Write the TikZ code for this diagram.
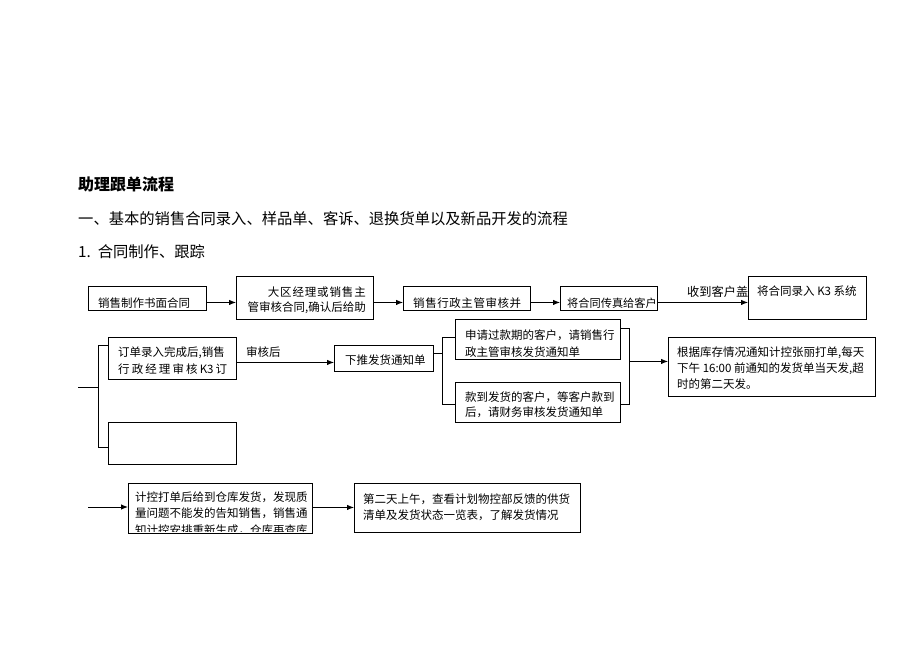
\documentclass[tikz,border=0pt]{standalone}
\usepackage{fontspec}
\setmainfont{Noto Sans CJK SC}
\usetikzlibrary{arrows.meta}
\tikzset{
  box/.style={draw, line width=0.9pt, fill=white, anchor=north west, inner sep=0pt},
  txt/.style={font=\fontsize{11.5}{17}\selectfont, inner sep=0pt, align=left, anchor=north west},
  head/.style={font=\fontsize{15.3}{18}\selectfont, inner sep=0pt, anchor=west},
  ln/.style={line width=0.9pt},
  arr/.style={line width=0.9pt, -{Latex[length=7pt,width=5.5pt]}}
}
\begin{document}
\begin{tikzpicture}[x=1pt,y=-1pt]
\useasboundingbox (0,0) rectangle (920,651);
% headings
\node[head, font=\fontsize{16}{18}\selectfont\bfseries] (t1) at (78,184) {助理跟单流程};
\node[head] (t2) at (78,219) {一、基本的销售合同录入、样品单、客诉、退换货单以及新品开发的流程};
\node[head] (t3) at (78,252) {1.\ \ 合同制作、跟踪};
% row 1
\node[box, minimum width=118pt, minimum height=24pt] (A) at (88,286) {};
\node[txt] (At) at (98,297.5) {销售制作书面合同};
\node[box, minimum width=137pt, minimum height=43pt] (B) at (236,276) {};
\node[txt, align=right, anchor=north east, font=\fontsize{11.5}{15}\selectfont] (Bt) at (366,287) {\makebox[98pt][s]{大\hfill 区\hfill 经\hfill 理\hfill 或\hfill 销\hfill 售\hfill 主}\\管审核合同,确认后给助};
\node[box, minimum width=127pt, minimum height=24pt] (C) at (403,286) {};
\node[txt] (Ct) at (413,297.5) {\makebox[108pt][s]{销\hfill 售\hfill 行\hfill 政\hfill 主\hfill 管\hfill 审\hfill 核\hfill 并}};
\node[box, minimum width=97pt, minimum height=24pt] (D) at (560,286) {};
\node[txt, font=\fontsize{11.2}{17}\selectfont] (Dt) at (567,297.7) {将合同传真给客户};
\begin{scope}
  \clip (680,270) rectangle (748,300);
  \node[txt, font=\fontsize{12.2}{17}\selectfont] (lab1) at (687,286) {收到客户盖};
\end{scope}
\node[box, minimum width=118pt, minimum height=43pt] (E) at (748,276) {};
\node[txt] (Et) at (757,285.5) {将合同录入 K3 系统};
\draw[arr] ([yshift=-4pt]A.east) -- ([yshift=-4pt]A.east -| B.west);
\draw[arr] ([yshift=-4pt]C.west -| B.east) -- ([yshift=-4pt]C.west);
\draw[arr] ([yshift=-4pt]C.east) -- ([yshift=-4pt]C.east -| D.west);
\draw[arr] ([yshift=-4pt]D.east) -- ([yshift=-4pt]D.east -| E.west);
% row 2
\node[box, minimum width=128pt, minimum height=42pt] (F) at (108,337) {};
\node[txt] (Ft) at (118,346.5) {订单录入完成后,销售\\\makebox[109pt][s]{行\hfill 政\hfill 经\hfill 理\hfill 审\hfill 核\hfill K3\hfill 订}};
\node[box, minimum width=128pt, minimum height=42pt] (G) at (108,422) {};
\coordinate (s1) at (78,387);
\draw[ln] ([yshift=-8pt]F.north west) -- ++(-10,0) |- ([yshift=-25pt]G.north west);
\draw[ln] (s1) -- ++(20,0);
\node[box, minimum width=99pt, minimum height=26pt] (H) at (334,345) {};
\node[txt] (Ht) at (345,355) {下推发货通知单};
\draw[arr] ([yshift=-4pt]F.east) -- ([yshift=-4pt]F.east -| H.west);
\node[txt] (lab2) at (246,346.5) {审核后};
\node[box, minimum width=165pt, minimum height=40pt] (I) at (455,319) {};
\node[txt] (It) at (465,329.5) {申请过款期的客户，请销售行\\政主管审核发货通知单};
\node[box, minimum width=165pt, minimum height=40pt] (J) at (455,382) {};
\node[txt, font=\fontsize{11.5}{15.5}\selectfont] (Jt) at (465,391.5) {款到发货的客户，等客户款到\\后，请财务审核发货通知单};
\draw[ln] ([yshift=5pt]H.east) -- ++(9,0);
\draw[ln] ([yshift=-18pt]I.north west) -- ++(-13,0) |- ([yshift=-22pt]J.north west);
\draw[ln] ([yshift=-9pt]I.north east) -- ++(9,0) coordinate (rb) |- ([yshift=-22pt]J.north east);
\node[box, minimum width=207pt, minimum height=59pt] (K) at (668,337) {};
\node[txt, font=\fontsize{11.5}{16}\selectfont] (Kt) at (677,346.5) {根据库存情况通知计控张丽打单,每天\\下午 16:00 前通知的发货单当天发,超\\时的第二天发。};
\path ([yshift=5.5pt]K.west) coordinate (k1);
\draw[arr] (k1 -| rb) -- (k1);
% row 3
\node[box, minimum width=184pt, minimum height=50pt] (L) at (128,483) {};
\begin{scope}
  \clip (L.north west) rectangle ([yshift=2.5pt]L.south east);
  \node[txt, font=\fontsize{11.5}{16.5}\selectfont] (Lt) at (135,491.5) {计控打单后给到仓库发货，发现质\\量问题不能发的告知销售，销售通\\知计控安排重新生成，仓库再查库};
\end{scope}
\node[box, minimum width=226pt, minimum height=49pt] (M) at (354,483) {};
\node[txt, font=\fontsize{11.5}{16}\selectfont] (Mt) at (363,493.5) {第二天上午，查看计划物控部反馈的供货\\清单及发货状态一览表，了解发货情况};
\coordinate (s2) at (88,507);
\draw[arr] (s2) -- (s2 -| L.west);
\draw[arr] ([yshift=1pt]L.east) -- ([yshift=1pt]L.east -| M.west);
\end{tikzpicture}
\end{document}
